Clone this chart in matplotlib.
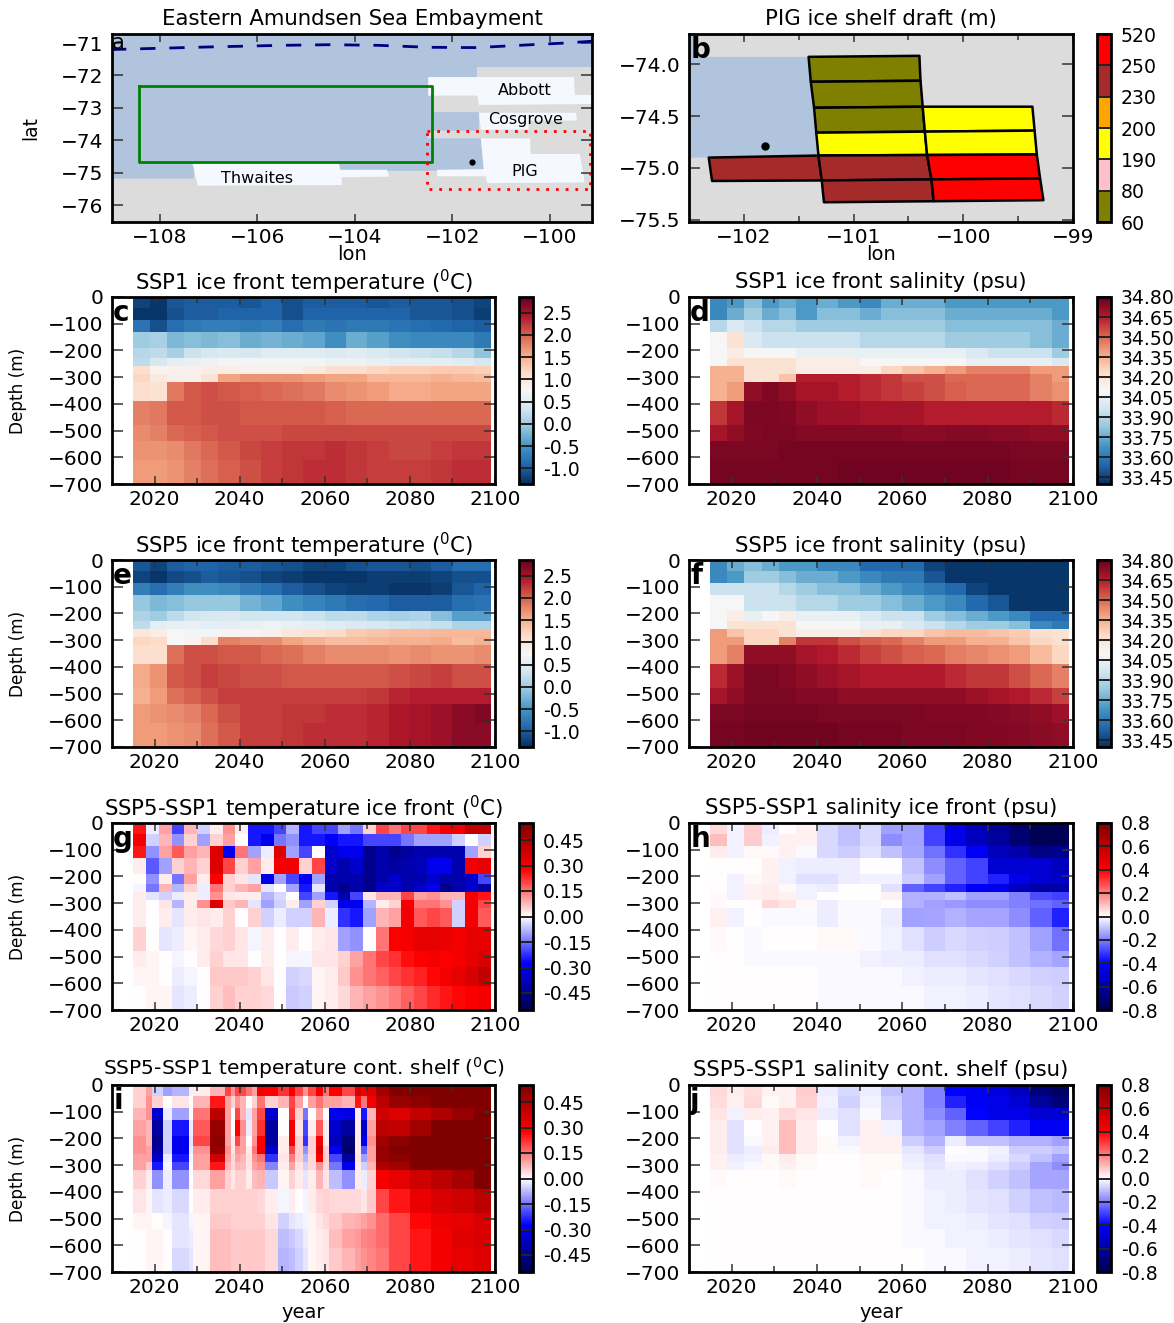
import numpy as np
import matplotlib
matplotlib.use("Agg")
import matplotlib.pyplot as plt
from matplotlib.colors import ListedColormap, BoundaryNorm

plt.rcParams['font.family'] = ['DejaVu Sans']

# depth levels (m) and year edges of the sections
depth_edges = [0, -40, -85, -130, -190, -230, -260, -290, -320, -390, -480, -540, -610, -700]
years_coarse = [2015, 2019, 2023, 2027, 2031, 2035, 2040, 2045, 2050, 2055, 2060, 2065, 2070,
                2075, 2080, 2085, 2090, 2095, 2099]
years_fine = [2015, 2018, 2021, 2024, 2027, 2030, 2033, 2036, 2039, 2042, 2045, 2048, 2051, 2054,
              2057, 2060, 2063, 2066, 2069, 2072, 2075, 2078, 2081, 2084, 2087, 2090, 2093, 2096, 2099]
# shelf difference has clear warm/cold pulses, so its columns follow them
years_shelf = [2015, 2018, 2019.5, 2022, 2024, 2028, 2029, 2033, 2036.5, 2038, 2039, 2040, 2041.5, 2043,
               2044, 2046, 2049, 2051.5, 2053, 2055, 2056, 2058, 2059.5, 2061, 2064, 2067, 2068.5,
               2070, 2072, 2075, 2080, 2085, 2090, 2095, 2099]

ssp1_temp = [
    [-1.2, -1.3, -1.05, -1.0, -1.0, -1.0, -1.05, -.95, -1.1, -1.0, -1.0, -1.0, -1.05, -1.0, -1.05, -1.05, -1.1, -1.2],
    [-1.3, -1.3, -1.1, -1.0, -1.0, -.95, -.95, -.95, -1.1, -.95, -.95, -.95, -.95, -.95, -1.05, -1.05, -1.1, -1.25],
    [-.8, -1.1, -.85, -.75, -.7, -.7, -.75, -.7, -.85, -.75, -.8, -.75, -.75, -.8, -.85, -.9, -.95, -1.0],
    [0.0, .05, -.2, -.15, -.2, -.15, -.3, -.25, -.3, -.35, -.55, -.3, -.4, -.55, -.6, -.6, -.6, -.75],
    [.15, .2, .05, .3, .4, .45, .4, .5, .5, .5, .45, .5, .45, .35, .3, .25, .15, -.1],
    [.2, .4, .55, .6, .65, .7, .7, .7, .7, .7, .65, .65, .6, .55, .55, .55, .5, .4],
    [1.1, .8, .85, .85, .9, .9, .85, .85, .85, .95, 1.1, 1.1, 1.2, 1.25, 1.25, 1.3, 1.3, 1.25],
    [1.2, .95, .85, .85, 1.05, 1.6, 1.7, 1.7, 1.7, 1.65, 1.6, 1.6, 1.45, 1.45, 1.45, 1.5, 1.45, 1.4],
    [1.1, 1.05, 1.85, 2.05, 2.1, 2.05, 2.0, 1.95, 1.9, 1.85, 1.75, 1.7, 1.65, 1.55, 1.55, 1.6, 1.6, 1.6],
    [1.8, 1.85, 2.05, 2.05, 2.1, 2.1, 2.05, 2.05, 2.05, 2.05, 2.0, 1.95, 1.95, 1.95, 1.95, 1.95, 1.95, 1.95],
    [1.75, 1.8, 1.95, 2.0, 2.05, 2.1, 2.1, 2.1, 2.15, 2.15, 2.15, 2.15, 2.15, 2.15, 2.15, 2.15, 2.15, 2.15],
    [1.7, 1.7, 1.75, 1.85, 1.95, 2.05, 2.15, 2.2, 2.25, 2.25, 2.3, 2.25, 2.2, 2.15, 2.15, 2.2, 2.25, 2.25],
    [1.65, 1.65, 1.7, 1.8, 1.9, 2.0, 2.1, 2.2, 2.25, 2.3, 2.3, 2.25, 2.2, 2.2, 2.2, 2.25, 2.3, 2.3],
]

ssp5_temp = [
    [-1.05, -1.2, -1.0, -.95, -.95, -1.0, -1.0, -1.05, -1.1, -1.2, -1.2, -1.1, -1.05, -1.05, -1.1, -1.0, -.85, -.85],
    [-1.2, -1.3, -1.15, -1.1, -1.0, -1.05, -1.1, -1.2, -1.25, -1.3, -1.3, -1.3, -1.25, -1.25, -1.25, -1.2, -1.1, -1.1],
    [-.7, -.85, -.7, -.55, -.55, -.6, -.75, -.85, -1.0, -1.1, -1.2, -1.25, -1.25, -1.3, -1.3, -1.25, -1.05, -.95],
    [-.05, -.2, -.15, -.05, -.05, -.05, -.25, -.35, -.55, -.65, -.75, -.85, -.9, -1.0, -1.0, -1.0, -.85, -.8],
    [.1, 0.0, .2, .35, .4, .45, .35, .35, .35, .3, .2, .2, .1, .05, .1, -.15, -.4, -.4],
    [.2, .55, .6, .6, .55, .55, .6, .65, .6, .55, .5, .45, .4, .35, .3, .25, .1, .1],
    [1.0, .9, .75, .7, .7, .8, .8, .85, 1.0, 1.05, 1.15, 1.3, 1.35, 1.4, 1.4, 1.45, 1.45, 1.45],
    [1.2, 1.15, .75, .8, 1.15, 1.8, 1.75, 1.75, 1.6, 1.5, 1.4, 1.4, 1.45, 1.5, 1.5, 1.55, 1.4, 1.5],
    [1.1, 1.1, 1.9, 2.1, 2.1, 2.05, 2.05, 1.95, 1.9, 1.8, 1.75, 1.75, 1.75, 1.7, 1.75, 1.7, 1.7, 1.75],
    [1.55, 1.7, 2.05, 2.1, 2.2, 2.15, 2.1, 2.1, 2.05, 2.05, 2.05, 2.05, 2.05, 2.1, 2.15, 2.2, 2.1, 2.1],
    [1.5, 1.65, 1.9, 2.0, 2.1, 2.2, 2.2, 2.2, 2.2, 2.2, 2.2, 2.2, 2.25, 2.35, 2.4, 2.4, 2.4, 2.4],
    [1.65, 1.7, 1.75, 1.8, 1.95, 2.1, 2.2, 2.2, 2.25, 2.25, 2.3, 2.3, 2.35, 2.45, 2.5, 2.55, 2.65, 2.7],
    [1.65, 1.65, 1.7, 1.75, 1.9, 2.05, 2.2, 2.2, 2.25, 2.3, 2.3, 2.3, 2.35, 2.45, 2.5, 2.55, 2.65, 2.65],
]

ssp1_salt = [
    [33.65, 33.7, 33.8, 33.7, 33.75, 33.7, 33.75, 33.7, 33.65, 33.75, 33.75, 33.75, 33.7, 33.7, 33.7, 33.7, 33.7, 33.7],
    [33.65, 33.75, 33.85, 33.75, 33.8, 33.7, 33.8, 33.8, 33.75, 33.8, 33.8, 33.8, 33.75, 33.75, 33.75, 33.75, 33.75, 33.7],
    [33.9, 34.0, 33.95, 33.9, 33.9, 33.85, 33.85, 33.85, 33.85, 33.85, 33.85, 33.85, 33.8, 33.8, 33.8, 33.8, 33.8, 33.75],
    [34.1, 34.2, 34.0, 33.95, 33.95, 33.95, 33.95, 33.95, 33.9, 33.9, 33.9, 33.9, 33.85, 33.85, 33.85, 33.85, 33.8, 33.75],
    [34.1, 34.15, 34.1, 34.1, 34.1, 34.05, 34.05, 34.05, 34.05, 34.05, 34.05, 34.05, 34.05, 34.0, 33.95, 33.95, 33.95, 33.85],
    [34.1, 34.2, 34.2, 34.2, 34.2, 34.15, 34.15, 34.15, 34.1, 34.1, 34.1, 34.1, 34.1, 34.05, 34.05, 34.05, 34.05, 34.0],
    [34.35, 34.35, 34.2, 34.2, 34.2, 34.15, 34.15, 34.15, 34.15, 34.25, 34.3, 34.35, 34.4, 34.45, 34.45, 34.45, 34.4, 34.4],
    [34.35, 34.35, 34.2, 34.2, 34.3, 34.65, 34.65, 34.65, 34.62, 34.6, 34.55, 34.55, 34.5, 34.5, 34.5, 34.5, 34.45, 34.4],
    [34.35, 34.4, 34.72, 34.75, 34.72, 34.68, 34.68, 34.65, 34.62, 34.6, 34.58, 34.55, 34.52, 34.5, 34.5, 34.5, 34.45, 34.42],
    [34.6, 34.68, 34.76, 34.76, 34.75, 34.72, 34.7, 34.7, 34.68, 34.68, 34.68, 34.65, 34.65, 34.65, 34.65, 34.65, 34.65, 34.63],
    [34.68, 34.72, 34.75, 34.76, 34.76, 34.74, 34.74, 34.74, 34.74, 34.74, 34.73, 34.73, 34.74, 34.74, 34.73, 34.73, 34.72, 34.72],
    [34.76, 34.76, 34.76, 34.76, 34.77, 34.77, 34.77, 34.77, 34.77, 34.77, 34.77, 34.77, 34.77, 34.77, 34.77, 34.76, 34.76, 34.76],
    [34.77, 34.77, 34.77, 34.77, 34.77, 34.77, 34.77, 34.78, 34.78, 34.78, 34.78, 34.78, 34.78, 34.78, 34.78, 34.77, 34.77, 34.77],
]

ssp5_salt = [
    [33.65, 33.75, 33.8, 33.75, 33.7, 33.7, 33.65, 33.65, 33.55, 33.55, 33.55, 33.45, 33.42, 33.42, 33.42, 33.42, 33.42, 33.42],
    [33.65, 33.7, 33.85, 33.85, 33.8, 33.75, 33.75, 33.7, 33.65, 33.6, 33.6, 33.5, 33.42, 33.42, 33.42, 33.42, 33.42, 33.42],
    [33.95, 33.95, 33.95, 33.95, 33.9, 33.85, 33.8, 33.8, 33.75, 33.7, 33.65, 33.6, 33.55, 33.45, 33.42, 33.42, 33.42, 33.42],
    [34.1, 34.1, 33.95, 33.95, 33.95, 33.9, 33.9, 33.85, 33.85, 33.8, 33.75, 33.7, 33.65, 33.55, 33.5, 33.42, 33.42, 33.42],
    [34.1, 34.15, 34.05, 34.1, 34.15, 34.05, 34.05, 34.05, 34.0, 33.95, 33.95, 33.85, 33.8, 33.75, 33.7, 33.65, 33.55, 33.55],
    [34.1, 34.2, 34.2, 34.2, 34.2, 34.1, 34.1, 34.1, 34.05, 34.05, 34.0, 33.95, 33.9, 33.85, 33.85, 33.8, 33.65, 33.6],
    [34.4, 34.3, 34.25, 34.25, 34.2, 34.15, 34.15, 34.15, 34.2, 34.25, 34.25, 34.3, 34.32, 34.32, 34.3, 34.28, 34.22, 34.2],
    [34.4, 34.4, 34.25, 34.25, 34.45, 34.6, 34.6, 34.55, 34.52, 34.5, 34.45, 34.4, 34.4, 34.35, 34.35, 34.3, 34.25, 34.22],
    [34.4, 34.45, 34.72, 34.72, 34.72, 34.68, 34.66, 34.62, 34.58, 34.55, 34.52, 34.5, 34.46, 34.44, 34.42, 34.4, 34.32, 34.25],
    [34.62, 34.7, 34.76, 34.76, 34.74, 34.72, 34.7, 34.68, 34.66, 34.66, 34.66, 34.66, 34.62, 34.6, 34.6, 34.55, 34.5, 34.45],
    [34.68, 34.72, 34.76, 34.76, 34.76, 34.74, 34.74, 34.72, 34.72, 34.72, 34.72, 34.72, 34.72, 34.7, 34.68, 34.66, 34.62, 34.58],
    [34.76, 34.76, 34.77, 34.77, 34.77, 34.77, 34.76, 34.76, 34.76, 34.76, 34.76, 34.75, 34.75, 34.75, 34.74, 34.73, 34.72, 34.7],
    [34.77, 34.77, 34.78, 34.78, 34.78, 34.78, 34.78, 34.77, 34.77, 34.77, 34.76, 34.76, 34.76, 34.75, 34.75, 34.74, 34.73, 34.72],
]

diff_temp_front = [
    [.25, -.02, .1, -.2, .08, -.05, .02, .12, .02, -.25, -.25, -.2, -.08, -.25, -.2, -.2, -.1, -.15, .05, .2, .15, .2, .2, .25, .3, .3, .4, .4],
    [.3, -.05, .08, -.12, .05, -.1, .05, .1, 0.0, -.25, -.3, -.15, -.12, -.25, -.25, -.28, -.25, -.25, -.2, -.2, -.2, -.15, -.1, -.1, -.1, -.05, 0.0, -.05],
    [.25, -.12, .1, .18, .1, .08, .35, -.3, .15, -.1, -.02, .35, -.1, -.2, 0.0, -.35, -.3, -.3, -.45, -.4, -.45, -.42, -.4, -.4, -.4, -.4, -.1, .05],
    [.02, -.18, -.1, .05, .08, .05, .35, .2, .05, .1, .02, .3, .3, .05, .2, -.35, -.4, -.35, -.45, -.4, -.42, -.4, -.38, -.3, -.3, -.4, .3, .32],
    [0.0, -.12, .02, -.15, .1, .02, .28, .05, .03, -.03, -.3, -.1, -.2, -.28, -.1, -.4, -.4, -.4, -.45, -.4, -.35, -.4, -.4, -.35, -.4, -.4, -.35, -.2],
    [-.01, -.15, .08, -.08, .05, -.02, .15, .05, .08, .1, -.03, 0.0, -.1, -.25, -.03, -.4, -.45, -.4, -.45, -.35, -.35, -.4, -.35, -.3, -.45, -.4, -.35, -.42],
    [.02, -.03, -.05, -.02, .02, -.02, .12, .03, .02, .02, -.08, -.04, 0.0, -.2, -.1, -.25, -.4, -.2, .03, .08, .08, .2, .1, .12, .08, .08, .3, .25],
    [.02, 0.0, .03, -.08, .02, .12, .35, .06, .08, -.03, -.1, -.05, .02, -.1, .05, -.05, -.3, -.3, -.08, .02, .05, .3, .15, .15, .12, -.05, .3, .2],
    [.02, 0.0, .02, -.03, .02, .03, .02, .05, 0.0, .05, -.05, -.02, -.05, -.05, .08, -.02, -.22, -.25, -.1, .08, .1, .3, .18, .2, .18, -.05, .3, .18],
    [.05, 0.0, -.03, -.02, .01, .02, .04, .05, .03, -.01, .02, 0.0, .02, 0.0, .02, .03, -.1, -.12, 0.0, .15, .28, .3, .33, .33, .32, .3, .33, .33],
    [.02, .01, 0.0, -.01, 0.0, .02, .05, .03, .03, 0.0, .02, 0.0, -.01, -.01, .03, .03, .05, .1, .15, .2, .22, .26, .28, .3, .28, .3, .33, .36],
    [.01, .01, 0.0, -.02, -.01, 0.0, .06, .06, .06, .05, .03, 0.0, -.05, -.04, .01, .02, .06, .12, .15, .17, .2, .22, .24, .27, .3, .33, .36, .4],
    [0.0, .01, .01, -.03, -.02, 0.0, .05, .07, .05, .05, .04, 0.0, -.06, -.05, .01, .02, .04, .08, .1, .12, .14, .17, .2, .23, .25, .27, .28, .3],
]

diff_temp_shelf = [
    [.05, .1, -.05, -.1, -.08, .02, .02, .08, .2, .12, .2, .2, .15, .1, .3, .28, .22, .3, .2, .12, .2, .3, .15, .28, .2, .35, .3, .35, .48, .55, .55, .55, .55, .55],
    [.05, .12, .05, 0.0, .03, 0.0, .08, .25, .1, .05, .12, .08, 0.0, .05, .15, .05, .08, .2, .1, 0.0, .1, .15, .1, .1, .08, .25, .15, .3, .42, .5, .52, .55, .55, .55],
    [.08, .12, -.35, -.02, -.1, 0.0, .15, .42, .1, 0.0, .2, .08, -.03, .1, .2, -.35, 0.0, .22, .05, -.15, 0.0, .1, 0.0, -.3, -.32, .02, -.25, .08, .38, .35, .4, .45, .5, .55],
    [.1, .08, -.42, -.05, -.25, -.02, .18, .5, .1, 0.0, .28, .12, -.02, .1, .22, -.42, 0.0, .3, .03, -.2, .02, .18, .02, -.35, -.42, .02, -.35, .1, .42, .4, .48, .55, .55, .55],
    [.12, .08, -.45, -.05, -.3, -.03, .2, .52, .1, .02, .2, .1, 0.0, .12, .28, -.42, .02, .3, .05, -.22, .05, .3, .02, -.38, -.48, .02, -.3, .12, .48, .52, .55, .55, .55, .55],
    [.12, .1, -.42, -.05, -.3, -.02, .12, .5, .12, .03, .12, .1, .02, .15, .3, -.35, .02, .2, .05, -.12, .05, .35, .05, -.3, -.5, .02, -.18, .1, .5, .55, .55, .55, .55, .55],
    [.1, .1, -.35, -.02, -.25, -.01, .1, .38, .1, .04, .1, .08, .03, .12, .15, -.22, .03, .14, .05, -.08, .04, .28, .05, -.2, -.42, .03, -.1, .1, .5, .52, .55, .55, .55, .55],
    [.1, .06, -.25, -.01, -.2, 0.0, .1, .25, .08, .04, .08, .07, .03, .1, .12, -.13, .02, .1, .03, -.05, .04, .12, .04, -.15, -.3, .02, -.05, .08, .45, .48, .55, .55, .55, .55],
    [.05, .02, -.12, -.02, -.12, 0.0, .04, .1, .05, .03, .05, .05, .02, .07, .08, -.06, .01, .05, .02, -.03, .02, .08, .03, -.07, -.12, .02, -.02, .05, .3, .33, .38, .42, .46, .55],
    [.03, .01, -.03, -.02, -.04, 0.0, .02, .05, .05, .05, .05, .05, .05, .05, .04, .02, -.01, .02, 0.0, -.01, .02, .04, .05, .04, .04, .04, .03, .06, .2, .25, .32, .36, .38, .42],
    [.01, .01, 0.0, -.01, -.03, -.01, .01, .06, .06, .05, .05, .05, .05, .05, .05, .03, -.05, -.03, -.02, -.01, .01, .03, .04, .06, .08, .09, .1, .12, .16, .2, .27, .31, .33, .36],
    [0.0, .01, .01, 0.0, -.03, -.02, .01, .07, .07, .06, .06, .06, .06, .06, .06, .04, -.07, -.06, -.04, -.02, .01, .02, .03, .07, .1, .11, .13, .14, .16, .2, .25, .3, .34, .36],
    [0.0, .01, .01, 0.0, -.04, -.03, .01, .07, .07, .06, .06, .06, .06, .06, .06, .04, -.08, -.07, -.05, -.03, .01, .02, .03, .06, .08, .1, .12, .13, .15, .2, .25, .3, .33, .35],
]

diff_salt_front = [
    [.06, -.02, .08, -.03, 0.0, .02, -.06, -.1, -.06, -.15, -.15, -.3, -.45, -.55, -.62, -.72, -.78, -.78],
    [.1, -.02, .08, -.02, .02, .02, -.06, -.1, -.06, -.18, -.15, -.3, -.45, -.55, -.62, -.72, -.78, -.78],
    [.03, -.02, .01, .01, .02, -.01, -.06, -.08, -.05, -.1, -.14, -.22, -.32, -.42, -.55, -.6, -.68, -.65],
    [0.0, 0.0, 0.0, .02, -.02, -.03, -.03, -.03, 0.0, 0.0, -.1, -.18, -.25, -.3, -.5, -.5, -.5, -.55],
    [0.0, -.02, .01, .02, -.02, -.05, -.05, -.03, -.02, -.02, -.08, -.15, -.25, -.3, -.35, -.45, -.5, -.52],
    [0.0, -.02, .02, .03, .01, -.02, -.03, 0.0, 0.0, -.05, -.25, -.3, -.35, -.42, -.45, -.55, -.6, -.6],
    [.01, -.02, .02, .03, .02, -.02, 0.0, 0.0, 0.0, .02, -.12, -.12, -.1, -.15, -.15, -.2, -.28, -.3],
    [.01, 0.0, 0.0, .06, .04, .01, -.03, -.01, -.01, 0.0, -.12, -.15, -.16, -.18, -.18, -.2, -.22, -.25],
    [.02, -.02, 0.0, -.01, -.01, -.01, -.03, -.01, -.01, -.03, -.15, -.14, -.12, -.14, -.14, -.18, -.25, -.35],
    [.01, 0.0, -.01, 0.0, 0.0, 0.0, .01, .01, -.01, -.02, -.05, -.08, -.06, -.07, -.08, -.1, -.15, -.22],
    [0.0, 0.0, -.01, -.01, -.01, -.01, -.01, -.01, -.02, -.03, -.03, -.05, -.05, -.06, -.07, -.1, -.12, -.14],
    [0.0, 0.0, 0.0, 0.0, 0.0, 0.0, -.01, -.01, -.01, -.01, -.02, -.03, -.03, -.04, -.05, -.06, -.07, -.08],
    [0.0, 0.0, 0.0, 0.0, 0.0, 0.0, -.01, -.01, -.01, -.01, -.01, -.02, -.02, -.03, -.04, -.05, -.06, -.07],
]

diff_salt_shelf = [
    [.06, .03, .05, .02, .02, .08, -.03, -.06, -.03, -.1, -.12, -.2, -.4, -.42, -.47, -.55, -.7, -.75],
    [.05, .02, .06, .01, .02, .07, -.02, -.07, -.02, -.08, -.12, -.2, -.35, -.42, -.45, -.5, -.62, -.7],
    [.04, -.02, .03, .02, .06, .04, -.03, -.05, -.01, -.07, -.12, -.18, -.25, -.4, -.45, -.45, -.5, -.5],
    [.03, -.05, 0.0, .02, .1, .03, 0.0, -.05, .02, -.02, -.12, -.15, -.2, -.25, -.3, -.35, -.42, -.42],
    [.03, -.05, -.01, .02, .1, .03, .01, -.02, .02, .02, -.08, -.12, -.03, -.1, -.1, -.12, -.12, -.15],
    [.03, -.05, -.03, .03, .1, .03, .01, -.01, .02, .02, -.04, -.08, 0.0, -.01, -.02, -.08, -.08, -.1],
    [.02, -.03, -.02, .01, .03, .01, 0.0, 0.0, .01, .01, -.03, -.05, -.01, -.01, -.03, -.06, -.1, -.15],
    [.02, -.02, -.01, .01, .02, .01, 0.0, 0.0, .01, .01, -.02, -.04, -.02, -.03, -.05, -.08, -.14, -.18],
    [.01, 0.0, 0.0, 0.0, .01, 0.0, 0.0, 0.0, .01, 0.0, -.01, -.03, -.03, -.05, -.07, -.1, -.14, -.14],
    [0.0, 0.0, 0.0, 0.0, 0.0, 0.0, 0.0, 0.0, 0.0, 0.0, -.01, -.02, -.03, -.04, -.05, -.07, -.1, -.11],
    [0.0, 0.0, 0.0, 0.0, 0.0, 0.0, 0.0, 0.0, 0.0, 0.0, -.01, -.02, -.02, -.03, -.04, -.05, -.07, -.08],
    [0.0, 0.0, 0.0, 0.0, 0.0, 0.0, 0.0, 0.0, 0.0, 0.0, -.01, -.01, -.02, -.02, -.03, -.04, -.05, -.06],
    [0.0, 0.0, 0.0, 0.0, 0.0, 0.0, 0.0, 0.0, 0.0, 0.0, 0.0, -.01, -.01, -.02, -.02, -.03, -.04, -.05],
]

temp_ticks = [-1.0, -.5, 0.0, .5, 1.0, 1.5, 2.0, 2.5]
salt_ticks = [33.45, 33.60, 33.75, 33.90, 34.05, 34.20, 34.35, 34.50, 34.65, 34.80]
dtemp_ticks = [-.45, -.30, -.15, 0.0, .15, .30, .45]
dsalt_ticks = [-.8, -.6, -.4, -.2, 0.0, .2, .4, .6, .8]

# map outlines, lon/lat
ocean_lon = [-109, -99, -99, -101.49, -101.49, -102.49, -102.49, -102.39, -102.39, -101.45, -101.45,
             -102.5, -102.5, -101.41, -101.35, -107.3, -107.3, -109]
ocean_lat = [-70.7, -70.7, -71.74, -71.74, -72.05, -72.05, -72.62, -72.62, -73.13, -73.13, -73.7,
             -73.7, -73.94, -73.94, -74.94, -74.94, -75.18, -75.18]
abbott_lon = [-102.49, -99.5, -99.48, -99.13, -99.13, -101.45, -101.48, -102.49]
abbott_lat = [-72.05, -72.05, -72.6, -72.6, -72.88, -72.91, -72.62, -72.62]
cosgrove_lon = [-101.45, -99.46, -99.44, -100.43, -100.43, -101.41]
cosgrove_lat = [-73.15, -73.15, -73.39, -73.39, -73.67, -73.67]
pig_lon = [-101.41, -100.4, -100.39, -99.38, -99.28, -101.28, -101.31, -102.31, -102.31, -101.35]
pig_lat = [-73.94, -73.94, -74.42, -74.42, -75.3, -75.32, -75.11, -75.11, -74.91, -74.89]
thwaites_lon = [-107.33, -104.32, -104.3, -103.34, -103.29, -104.27, -104.26, -107.22]
thwaites_lat = [-74.7, -74.7, -74.91, -74.91, -75.12, -75.14, -75.38, -75.4]
front_lon = [-109, -107, -105.5, -104.5, -103.5, -102.5, -101.5, -100.5, -99.7, -99]
front_lat = [-71.2, -71.12, -71.07, -71.05, -71.07, -71.13, -71.14, -71.06, -71.0, -70.93]
box_green_lon = [-108.42, -102.41, -102.41, -108.42, -108.42]
box_green_lat = [-72.33, -72.33, -74.68, -74.68, -72.33]
box_red_lon = [-102.51, -99.17, -99.17, -102.51, -102.51]
box_red_lat = [-73.7, -73.7, -75.5, -75.5, -73.7]
site_a = (-101.6, -74.68)
site_b = (-101.81, -74.79)

# PIG ice shelf cells
pig_ocean_lon = [-102.5, -102.42, -102.42, -101.41, -101.32, -102.32, -102.5]
pig_ocean_lat = [-73.7, -73.7, -73.93, -73.93, -74.88, -74.9, -74.9]
node_lon = [[-102.41, -101.41, -100.40, -99.38],
            [-102.39, -101.39, -100.39, -99.38],
            [-102.36, -101.36, -100.37, -99.37],
            [-102.34, -101.34, -100.35, -99.35],
            [-102.32, -101.32, -100.33, -99.33],
            [-102.29, -101.29, -100.29, -99.30],
            [-102.27, -101.27, -100.27, -99.27]]
node_lat = [[-73.93, -73.93, -73.92, -73.92],
            [-74.17, -74.17, -74.16, -74.16],
            [-74.42, -74.42, -74.41, -74.41],
            [-74.66, -74.66, -74.65, -74.64],
            [-74.90, -74.88, -74.875, -74.87],
            [-75.125, -75.12, -75.11, -75.10],
            [-75.33, -75.33, -75.32, -75.31]]
draft = [[np.nan, 70, np.nan],
         [np.nan, 70, np.nan],
         [np.nan, 70, 195],
         [np.nan, 195, 195],
         [240, 240, 300],
         [np.nan, 240, 300]]
draft_levels = [60, 80, 190, 200, 230, 250, 520]
draft_colors = ['olive', 'pink', 'yellow', 'orange', 'brown', 'red']

W = 1174.0
H = 1323.0
land = '#dcdcdc'
ocean = '#b0c4de'
ice = '#f5f9ff'


def px_axes(fig, x0, x1, y0, y1):
    # axes from pixel corners of the picture
    return fig.add_axes([x0/W, 1 - y1/H, (x1 - x0)/W, (y1 - y0)/H])


def style_axes(ax):
    for s in ax.spines.values():
        s.set_linewidth(2.0)
    ax.tick_params(which='both', direction='in', top=True, right=True, labelsize=14.5, color='#333333')
    ax.tick_params(axis='x', which='major', length=6, width=1.1, pad=4)
    ax.tick_params(axis='x', which='minor', length=4, width=1.1)
    ax.tick_params(axis='y', which='major', length=8, width=1.1, pad=6)


def centre_title(ax, title, size=15.3, above=14.5):
    # title centre sits a fixed distance above the frame, same for plain and mathtext titles
    ax.text(0.5, 1 + above/187, title, transform=ax.transAxes, fontsize=size, ha='center', va='center')


def add_cbar(fig, mesh, x0, x1, y0, y1, ticks, labels=None, **kw):
    cax = px_axes(fig, x0, x1, y0, y1)
    cb = fig.colorbar(mesh, cax=cax, ticks=ticks, **kw)
    cb.outline.set_linewidth(2.0)
    cax.tick_params(direction='in', length=10, width=1.4, labelsize=13.6, pad=7, color='#222222')
    if labels is not None:
        cb.set_ticklabels(labels)
    return cb


def section(fig, x0, x1, y0, title, letter, years, values, cmap, vmin, vmax, ticks, labels,
            ylabel=False, xlabel=False, title_size=15.3, title_above=14.5):
    y1 = y0 + 187
    ax = px_axes(fig, x0, x1, y0, y1)
    mesh = ax.pcolormesh(years, depth_edges, np.array(values), cmap=cmap, vmin=vmin, vmax=vmax)
    ax.set_xlim(2010, 2100)
    ax.set_ylim(-700, 0)
    ax.set_xticks([2020, 2040, 2060, 2080, 2100])
    ax.set_xticks([2030, 2050, 2070, 2090], minor=True)
    ax.set_yticks([-700, -600, -500, -400, -300, -200, -100, 0])
    style_axes(ax)
    ax.text(0.003, 0.915, letter, transform=ax.transAxes, fontsize=20, fontweight='bold', va='center')
    centre_title(ax, title, title_size, title_above)
    if ylabel:
        ax.set_ylabel('Depth (m)', fontsize=12.2)
        ax.yaxis.set_label_coords(-0.222, 0.5)
    if xlabel:
        ax.set_xlabel('year', fontsize=14, labelpad=5)
    add_cbar(fig, mesh, x1 + 24, x1 + 38, y0, y1, ticks, labels)
    return ax


def map_panels(fig):
    ax = px_axes(fig, 112, 592, 34, 222)
    ax.set_facecolor(land)
    ax.fill(ocean_lon, ocean_lat, color=ocean, lw=0)
    for lon, lat in [(abbott_lon, abbott_lat), (cosgrove_lon, cosgrove_lat), (pig_lon, pig_lat),
                     (thwaites_lon, thwaites_lat)]:
        ax.fill(lon, lat, color=ice, lw=0)
    ax.plot(front_lon, front_lat, color='navy', lw=2, dashes=(5.5, 5))
    ax.plot(box_green_lon, box_green_lat, color='green', lw=2)
    ax.plot(box_red_lon, box_red_lat, color='red', lw=2, ls=(0, (1, 2.5)))
    ax.plot(site_a[0], site_a[1], 'o', color='k', ms=3.5)
    ax.text(-106, -75.17, 'Thwaites', fontsize=11.5, ha='center', va='center')
    ax.text(-100.5, -72.46, 'Abbott', fontsize=11.5, ha='center', va='center')
    ax.text(-100.5, -73.36, 'Cosgrove', fontsize=11.5, ha='center', va='center')
    ax.text(-100.5, -74.97, 'PIG', fontsize=11.5, ha='center', va='center')
    ax.text(0.0, 0.95, 'a', transform=ax.transAxes, fontsize=15, va='center')
    ax.set_xlim(-108.98, -99.13)
    ax.set_ylim(-76.52, -70.72)
    ax.set_xticks([-108, -106, -104, -102, -100])
    ax.set_yticks([-76, -75, -74, -73, -72, -71])
    style_axes(ax)
    centre_title(ax, 'Eastern Amundsen Sea Embayment')
    ax.set_xlabel('lon', fontsize=14, labelpad=-1)
    ax.set_ylabel('lat', fontsize=13.5)
    ax.yaxis.set_label_coords(-0.15, 0.5)

    ax = px_axes(fig, 689, 1073, 34, 222)
    ax.set_facecolor(land)
    ax.fill(pig_ocean_lon, pig_ocean_lat, color=ocean, lw=0)
    cmap = ListedColormap(draft_colors)
    norm = BoundaryNorm(draft_levels, cmap.N)
    mesh = ax.pcolor(np.array(node_lon), np.array(node_lat), np.ma.masked_invalid(draft),
                     cmap=cmap, norm=norm, edgecolors='k', linewidth=1.8)
    ax.plot(site_b[0], site_b[1], 'o', color='k', ms=5)
    ax.text(0.003, 0.915, 'b', transform=ax.transAxes, fontsize=20, fontweight='bold', va='center')
    ax.set_xlim(-102.5, -99)
    ax.set_ylim(-75.52, -73.71)
    ax.set_xticks([-102, -101, -100, -99])
    ax.set_xticks([-101.5, -100.5, -99.5], minor=True)
    ax.set_yticks([-75.5, -75, -74.5, -74])
    style_axes(ax)
    centre_title(ax, 'PIG ice shelf draft (m)')
    ax.set_xlabel('lon', fontsize=14, labelpad=-1)
    add_cbar(fig, mesh, 1097, 1111, 34, 222, draft_levels, [str(v) for v in draft_levels], spacing='uniform')


def make_figure():
    fig = plt.figure(figsize=(W/100, H/100), dpi=100)
    map_panels(fig)

    left = (112, 495)
    right = (689, 1073)
    temp = dict(cmap='RdBu_r', vmin=-1.35, vmax=2.85, ticks=temp_ticks,
                labels=['%.1f' % t for t in temp_ticks])
    salt = dict(cmap='RdBu_r', vmin=33.4, vmax=34.8, ticks=salt_ticks,
                labels=['%.2f' % t for t in salt_ticks])
    dtemp = dict(cmap='seismic', vmin=-.55, vmax=.55, ticks=dtemp_ticks,
                 labels=['%.2f' % t for t in dtemp_ticks])
    dsalt = dict(cmap='seismic', vmin=-.8, vmax=.8, ticks=dsalt_ticks,
                 labels=['%.1f' % t for t in dsalt_ticks])

    section(fig, *left, 297, r'SSP1 ice front temperature ($^0$C)', 'c', years_coarse, ssp1_temp, ylabel=True, **temp)
    section(fig, *right, 297, 'SSP1 ice front salinity (psu)', 'd', years_coarse, ssp1_salt, **salt)
    section(fig, *left, 560, r'SSP5 ice front temperature ($^0$C)', 'e', years_coarse, ssp5_temp, ylabel=True, **temp)
    section(fig, *right, 560, 'SSP5 ice front salinity (psu)', 'f', years_coarse, ssp5_salt, **salt)
    section(fig, *left, 823, r'SSP5-SSP1 temperature ice front ($^0$C)', 'g', years_fine, diff_temp_front, ylabel=True, **dtemp)
    section(fig, *right, 823, 'SSP5-SSP1 salinity ice front (psu)', 'h', years_coarse, diff_salt_front, **dsalt)
    section(fig, *left, 1085, r'SSP5-SSP1 temperature cont. shelf ($^0$C)', 'i', years_shelf, diff_temp_shelf, ylabel=True, xlabel=True,
            title_size=14.6, title_above=16.5, **dtemp)
    section(fig, *right, 1085, 'SSP5-SSP1 salinity cont. shelf (psu)', 'j', years_coarse, diff_salt_shelf, xlabel=True, **dsalt)

    fig.savefig('out.png', dpi=100)


if __name__ == "__main__":
    make_figure()
